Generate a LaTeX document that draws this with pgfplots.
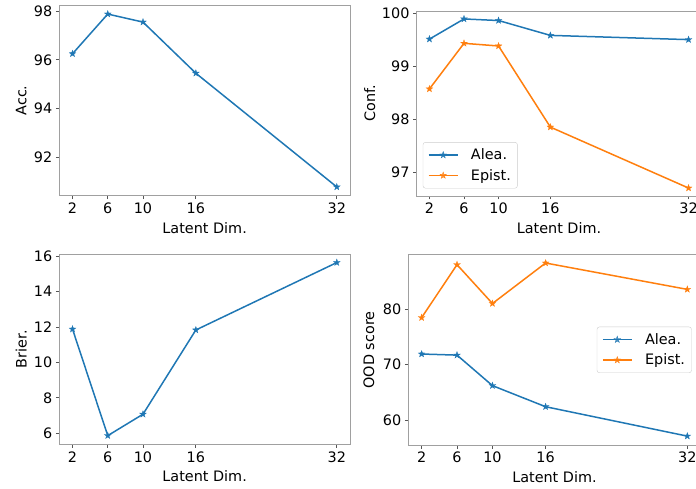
\documentclass[border=0pt]{standalone}
\usepackage{fontspec}
\setmainfont{DejaVu Sans}
\usepackage{pgfplots}
\pgfplotsset{compat=1.18}
\definecolor{C0}{HTML}{1F77B4}
\definecolor{C1}{HTML}{FF7F0E}
\definecolor{spine}{HTML}{A0A0A0}
\definecolor{tickc}{HTML}{555555}
\newcommand\ff{\fontsize{14.4}{17}\selectfont}

% filled five-pointed star, like matplotlib's '*'
\pgfdeclareplotmark{fstar}{%
  \pgfpathmoveto{\pgfpointpolar{90}{\pgfplotmarksize}}%
  \pgfpathlineto{\pgfpointpolar{126}{0.4\pgfplotmarksize}}%
  \pgfpathlineto{\pgfpointpolar{162}{\pgfplotmarksize}}%
  \pgfpathlineto{\pgfpointpolar{198}{0.4\pgfplotmarksize}}%
  \pgfpathlineto{\pgfpointpolar{234}{\pgfplotmarksize}}%
  \pgfpathlineto{\pgfpointpolar{270}{0.4\pgfplotmarksize}}%
  \pgfpathlineto{\pgfpointpolar{306}{\pgfplotmarksize}}%
  \pgfpathlineto{\pgfpointpolar{342}{0.4\pgfplotmarksize}}%
  \pgfpathlineto{\pgfpointpolar{18}{\pgfplotmarksize}}%
  \pgfpathlineto{\pgfpointpolar{54}{0.4\pgfplotmarksize}}%
  \pgfpathclose
  \pgfusepathqfillstroke}

\pgfplotsset{
  mpl/.style={
    scale only axis,
    xmin=0.5,xmax=33.5,xtick={2,6,10,16,32},
    tick align=outside,tick pos=left,major tick length=3.5pt,
    axis line style={spine,line width=0.8pt},
    tick style={tickc,line width=0.8pt},
    every tick label/.append style={font=\ff},
    /pgf/number format/assume math mode=true,
    label style={font=\ff},
    xlabel={Latent Dim.},
    x label style={at={(axis description cs:0.5,0)},anchor=center,yshift=-32pt},
    legend style={font=\ff,draw=gray!40,rounded corners=2.5pt,fill=white,fill opacity=0.8,text opacity=1,
      row sep=5pt,inner xsep=5pt,inner ysep=5pt,nodes={inner sep=1.5pt},
      /tikz/every odd column/.append style={column sep=11pt}},
    legend cell align=left,
    legend image code/.code={%
      \draw[mark repeat=2,mark phase=2,#1] plot coordinates {(0pt,0pt) (14.5pt,0pt) (29pt,0pt)};},
  },
  ser/.style={#1,line width=1.5pt,mark=fstar,mark size=3.5pt,mark options={solid,line width=0.3pt}},
}

\begin{document}
\begin{tikzpicture}[x=1pt,y=1pt]
\path[use as bounding box] (0,0) rectangle (696,488);

% top left: accuracy
\begin{axis}[mpl,at={(59.3pt,292.3pt)},anchor=south west,width=290.7pt,height=190.4pt,
  ymin=90.42,ymax=98.24,ytick={92,94,96,98},ylabel={Acc.},
  y label style={at={(axis description cs:-0.1306,0.5)},anchor=center}]
  \addplot[ser=C0] coordinates {(2,96.25) (6,97.88) (10,97.55) (16,95.45) (32,90.78)};
\end{axis}

% top right: confidence
\begin{axis}[mpl,at={(416.5pt,292pt)},anchor=south west,width=285pt,height=185pt,
  ymin=96.55,ymax=100.04,ytick={97,98,99,100},ylabel={Conf.},
  y label style={at={(axis description cs:-0.164,0.5)},anchor=center},
  legend style={at={(axis description cs:0.022,0.041)},anchor=south west}]
  \addplot[ser=C0] coordinates {(2,99.51) (6,99.89) (10,99.86) (16,99.58) (32,99.50)};
  \addlegendentry{Alea.}
  \addplot[ser=C1] coordinates {(2,98.57) (6,99.43) (10,99.38) (16,97.85) (32,96.70)};
  \addlegendentry{Epist.}
\end{axis}

% bottom left: Brier
\begin{axis}[mpl,at={(59.3pt,43.7pt)},anchor=south west,width=290.7pt,height=190.4pt,
  ymin=5.37,ymax=16.13,ytick={6,8,10,12,14,16},ylabel={Brier.},
  y label style={at={(axis description cs:-0.1306,0.5)},anchor=center}]
  \addplot[ser=C0] coordinates {(2,11.88) (6,5.86) (10,7.07) (16,11.83) (32,15.64)};
\end{axis}

% bottom right: OOD score
\begin{axis}[mpl,at={(408.3pt,43pt)},anchor=south west,width=292.3pt,height=190.3pt,
  ymin=55.5,ymax=89.8,ytick={60,70,80},ylabel={OOD score},
  y label style={at={(axis description cs:-0.1345,0.5)},anchor=center},
  legend style={at={(axis description cs:0.9695,0.5)},anchor=east}]
  \addplot[ser=C0] coordinates {(2,71.9) (6,71.7) (10,66.2) (16,62.4) (32,57.1)};
  \addlegendentry{Alea.}
  \addplot[ser=C1] coordinates {(2,78.45) (6,88.0) (10,81.0) (16,88.3) (32,83.55)};
  \addlegendentry{Epist.}
\end{axis}
\end{tikzpicture}
\end{document}
